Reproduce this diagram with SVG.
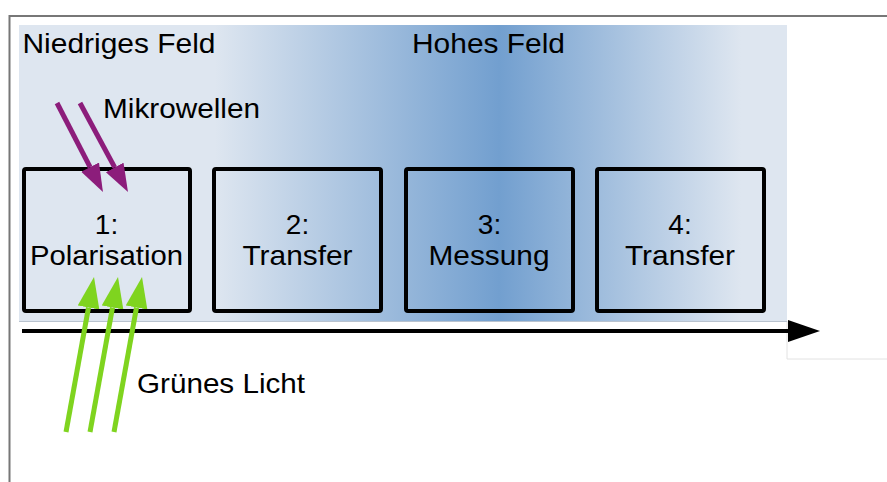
<svg xmlns="http://www.w3.org/2000/svg" width="887" height="482" viewBox="0 0 887 482">
  <style>
    text { font-family: "Liberation Sans", Arial, sans-serif; font-size: 28px; fill: #000; }
    .mid { text-anchor: middle; }
    .box { fill: none; stroke: #000; stroke-width: 4; }
    .mw { stroke: #8c1d7b; stroke-width: 5; fill: none; }
    .gl { stroke: #7fd41f; stroke-width: 5; fill: none; }
    .axis { stroke: #000; stroke-width: 4; fill: none; }
  </style>
  <defs>
    <linearGradient id="field" gradientUnits="userSpaceOnUse" x1="19" y1="0" x2="787" y2="0">
      <stop offset="0" stop-color="#dee6f0"/>
      <stop offset="0.255" stop-color="#dee6f0"/>
      <stop offset="0.625" stop-color="#729fcf"/>
      <stop offset="0.94" stop-color="#dee6f0"/>
      <stop offset="1" stop-color="#dee6f0"/>
    </linearGradient>
    <marker id="headMw" markerUnits="userSpaceOnUse" markerWidth="30" markerHeight="22" refX="0" refY="10" orient="auto">
      <path d="M0,0 L28,10 L0,20 Z" fill="#8c1d7b"/>
    </marker>
    <marker id="headGl" markerUnits="userSpaceOnUse" markerWidth="33" markerHeight="24" refX="0" refY="11" orient="auto">
      <path d="M0,0 L31,11 L0,22 Z" fill="#7fd41f"/>
    </marker>
    <marker id="headAxis" markerUnits="userSpaceOnUse" markerWidth="34" markerHeight="24" refX="0" refY="11" orient="auto">
      <path d="M0,0 L32,11 L0,22 Z" fill="#000"/>
    </marker>
  </defs>

  <!-- outer frame -->
  <path d="M9.5,482 V16 H887" fill="none" stroke="#777" stroke-width="2"/>
  <path d="M787,321 V359 H887" fill="none" stroke="#e2e2e2" stroke-width="1"/>

  <!-- field panel -->
  <rect x="19" y="25" width="768" height="296" fill="url(#field)"/>
  <line x1="19" y1="321.5" x2="787" y2="321.5" stroke="#b9c3cf" stroke-width="1"/>

  <text x="22.5" y="53" textLength="193" lengthAdjust="spacingAndGlyphs">Niedriges Feld</text>
  <text x="412" y="53" textLength="153" lengthAdjust="spacingAndGlyphs">Hohes Feld</text>

  <!-- process steps -->
  <g id="step1">
    <rect class="box" x="24" y="169" width="166" height="142" rx="2"/>
    <text class="mid" x="106.5" y="234">1:</text>
    <text class="mid" x="106.5" y="265" textLength="153" lengthAdjust="spacingAndGlyphs">Polarisation</text>
  </g>
  <g id="step2">
    <rect class="box" x="214" y="169" width="167" height="142" rx="2"/>
    <text class="mid" x="297.5" y="234">2:</text>
    <text class="mid" x="297.5" y="265" textLength="110" lengthAdjust="spacingAndGlyphs">Transfer</text>
  </g>
  <g id="step3">
    <rect class="box" x="406" y="169" width="167" height="142" rx="2"/>
    <text class="mid" x="489.5" y="234">3:</text>
    <text class="mid" x="489" y="265" textLength="121" lengthAdjust="spacingAndGlyphs">Messung</text>
  </g>
  <g id="step4">
    <rect class="box" x="597" y="169" width="167" height="142" rx="2"/>
    <text class="mid" x="680" y="234">4:</text>
    <text class="mid" x="680" y="265" textLength="110" lengthAdjust="spacingAndGlyphs">Transfer</text>
  </g>

  <!-- connectors: time axis, microwave and green light arrows -->
  <g id="connectors">
    <line class="axis" x1="22" y1="331" x2="788" y2="331" marker-end="url(#headAxis)"/>
    <line class="mw" x1="57" y1="103" x2="90.1" y2="167.1" marker-end="url(#headMw)"/>
    <line class="mw" x1="80" y1="103" x2="114.7" y2="167.4" marker-end="url(#headMw)"/>
    <line class="gl" x1="66" y1="432" x2="88.5" y2="307.5" marker-end="url(#headGl)"/>
    <line class="gl" x1="90" y1="432" x2="112.5" y2="307.5" marker-end="url(#headGl)"/>
    <line class="gl" x1="114" y1="432" x2="136.5" y2="307.5" marker-end="url(#headGl)"/>
  </g>

  <text x="103" y="118" textLength="157" lengthAdjust="spacingAndGlyphs">Mikrowellen</text>
  <text x="137" y="393" textLength="168" lengthAdjust="spacingAndGlyphs">Grünes Licht</text>
</svg>
